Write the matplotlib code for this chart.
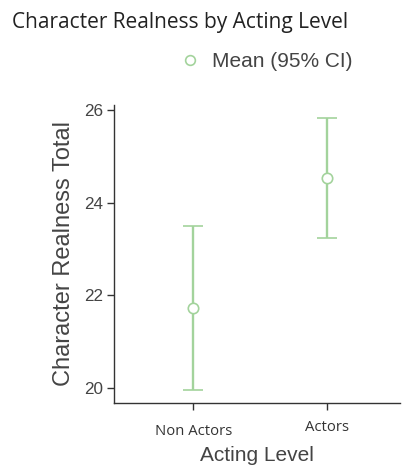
import numpy as np
import matplotlib.pyplot as plt
from matplotlib.lines import Line2D

# =============================================================================
# Data
# =============================================================================
groups = ["Non Actors", "Actors"]
means = [21.73, 24.53]
ci_low = [19.95, 23.25]
ci_high = [23.50, 25.83]

GREEN = "#a3d39c"
TEXT = "#333333"

# =============================================================================
# Plot
# =============================================================================
fig = plt.figure(figsize=(4.04, 4.66), dpi=100)
ax = fig.add_axes([0.282, 0.135, 0.708, 0.640])

x = np.arange(1, len(groups) + 1)
m = np.asarray(means)
yerr = np.vstack([m - np.asarray(ci_low), np.asarray(ci_high) - m])

ax.errorbar(
    x, m, yerr=yerr,
    fmt="o", color=GREEN, ecolor=GREEN,
    elinewidth=1.7, capsize=7, capthick=1.7,
    markersize=7.5, markerfacecolor="white", markeredgecolor=GREEN,
    markeredgewidth=1.2, zorder=3,
)

ax.set_xlim(0.41, 2.54)
ax.set_ylim(19.67, 26.12)
ax.set_yticks([20, 22, 24, 26])
ax.set_xticks(x)
ax.set_xticklabels(groups, fontfamily="Open Sans", fontsize=10.7, color="#222222")
# "Actors" label sits a little higher in the reference
ax.get_xticklabels()[1].set_y(0.012)

for side in ["top", "right"]:
    ax.spines[side].set_visible(False)
for side in ["left", "bottom"]:
    ax.spines[side].set_color(TEXT)
    ax.spines[side].set_linewidth(1.0)

ax.tick_params(axis="both", colors=TEXT, length=5, width=1.0)
ax.tick_params(axis="y", labelsize=12.3, pad=3)
ax.tick_params(axis="x", pad=10)
for lab in ax.get_yticklabels():
    lab.set_fontfamily("Liberation Sans")
    lab.set_color("#444444")

ax.set_ylabel("Character Realness Total", fontfamily="Liberation Sans",
              fontsize=17, color="#444444", labelpad=6)
ax.set_xlabel("Acting Level", fontfamily="Liberation Sans",
              fontsize=15, color="#444444", labelpad=5)

# Title
fig.text(0.03, 0.951, "Character Realness by Acting Level",
         fontfamily="Open Sans", fontsize=15, color="#222222",
         ha="left", va="center")

# Legend
handle = Line2D([], [], linestyle="none", marker="o", markersize=7,
                markerfacecolor="white", markeredgecolor=GREEN,
                markeredgewidth=1.2)
fig.legend([handle], ["Mean (95% CI)"], loc="center left",
           bbox_to_anchor=(0.397, 0.867), frameon=False,
           prop={"family": "Liberation Sans", "size": 15},
           handlelength=1.0, handletextpad=0.6, labelcolor="#444444")

fig.savefig("out.png", dpi=100)
plt.close(fig)
